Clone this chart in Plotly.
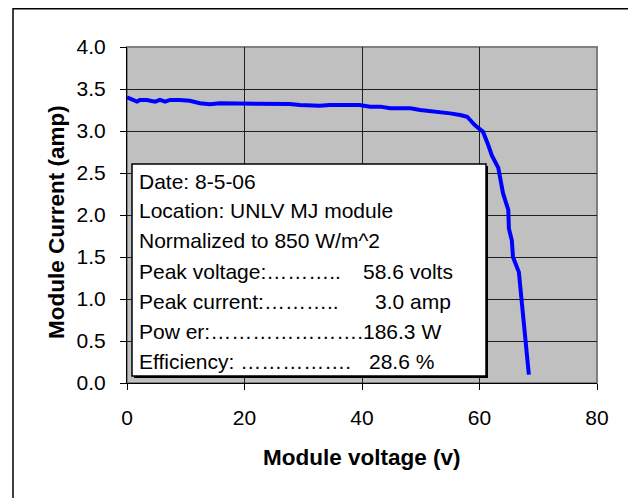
import plotly.graph_objects as go

# I-V curve data
voltage = [0.0, 0.7, 1.7, 2.2, 3.4, 4.8, 5.6, 6.5, 7.3, 9.0, 10.7, 12.4, 14.1, 15.8,
           17.5, 19.2, 20.9, 22.6, 24.3, 26.0, 27.7, 29.4, 31.1, 32.8, 34.5, 36.2,
           37.9, 39.6, 41.4, 43.1, 44.8, 46.5, 48.2, 49.9, 51.6, 53.3, 55.0, 56.7,
           57.9, 59.2, 60.6, 61.5, 62.1, 63.2, 63.5, 64.0, 64.9, 65.0, 65.5, 65.7,
           66.7, 68.4]
current = [3.40, 3.38, 3.35, 3.37, 3.37, 3.35, 3.37, 3.35, 3.37, 3.37, 3.36, 3.33,
           3.32, 3.33, 3.33, 3.32, 3.33, 3.32, 3.32, 3.33, 3.32, 3.31, 3.30, 3.30,
           3.31, 3.31, 3.30, 3.31, 3.29, 3.29, 3.27, 3.27, 3.27, 3.25, 3.24, 3.23,
           3.21, 3.19, 3.17, 3.07, 2.99, 2.83, 2.71, 2.56, 2.45, 2.26, 2.06, 1.84,
           1.70, 1.50, 1.32, 0.10]

x_ticks = [0, 20, 40, 60, 80]
y_ticks = [0.0, 0.5, 1.0, 1.5, 2.0, 2.5, 3.0, 3.5, 4.0]

info_labels = ["Date: 8-5-06", "Location: UNLV MJ module", "Normalized to 850 W/m^2",
               "Peak voltage:\u2026\u2026\u2026..", "Peak current:\u2026\u2026\u2026..",
               "Pow er:\u2026\u2026\u2026\u2026\u2026\u2026\u2026.",
               "Efficiency: \u2026\u2026\u2026\u2026\u2026."]
info_values = ["", "", "", "58.6 volts", "3.0 amp", "186.3 W", "28.6 %"]

# page body has an 8px margin: figure is shifted, so compensate
OFF = 8
W, H = 636 - OFF, 498 - OFF
REF_L, REF_T, PW, PH = 127, 47, 470, 336
L, T = REF_L - OFF, REF_T - OFF
R, B = W - L - PW, H - T - PH
FONT = "Liberation Sans, Arial, sans-serif"


def px(xp):
    return (xp - REF_L) / PW


def py(yp):
    return (REF_T + PH - yp) / PH


fig = go.Figure()
fig.add_trace(go.Scatter(x=voltage, y=current, mode="lines",
                         line=dict(color="#0000FF", width=4), showlegend=False))

axis_common = dict(showline=True, linecolor="black", linewidth=1, ticks="outside",
                   ticklen=6, tickcolor="black", showgrid=True, gridcolor="#202020",
                   gridwidth=1, zeroline=False, tickfont=dict(family=FONT, size=21, color="black"))
fig.update_xaxes(range=[0, 80], tickvals=x_ticks, ticktext=[str(v) for v in x_ticks],
                 ticklabelstandoff=10, **axis_common)
fig.update_yaxes(range=[0, 4], tickvals=y_ticks, ticktext=[f"{v:.1f}" for v in y_ticks],
                 ticklabelstandoff=10, **axis_common)

shapes = []
# outer chart frame
shapes.append(dict(type="rect", xref="paper", yref="paper", x0=px(13), x1=px(630),
                   y0=py(520), y1=py(8.8), line=dict(color="black", width=1.5), layer="below"))
# plot area border (gray)
shapes.append(dict(type="rect", xref="paper", yref="paper", x0=0, x1=1, y0=0, y1=1,
                   line=dict(color="#808080", width=2), layer="below"))
# text box shadow and box
shapes.append(dict(type="rect", xref="paper", yref="paper", x0=px(134), x1=px(488),
                   y0=py(378), y1=py(166), fillcolor="black", line=dict(width=0)))
shapes.append(dict(type="rect", xref="paper", yref="paper", x0=px(132), x1=px(486),
                   y0=py(376), y1=py(164), fillcolor="white",
                   line=dict(color="black", width=1.5)))

annotations = []
line_y = [180, 209.5, 239, 270, 300.5, 330, 360]
value_x = [0, 0, 0, 363, 375, 363, 369]
for i, (lab, val) in enumerate(zip(info_labels, info_values)):
    annotations.append(dict(text=lab, xref="paper", yref="paper", x=px(138), y=py(line_y[i] + 1),
                            xanchor="left", yanchor="middle", showarrow=False, borderpad=0,
                            font=dict(family=FONT, size=21, color="black")))
    if val:
        annotations.append(dict(text=val, xref="paper", yref="paper", x=px(value_x[i] - 1),
                                y=py(line_y[i] + 1), xanchor="left", yanchor="middle",
                                showarrow=False, borderpad=0,
                                font=dict(family=FONT, size=21, color="black")))

annotations.append(dict(text="<b>Module voltage (v)</b>", xref="paper", yref="paper",
                        x=px(362), y=py(457), xanchor="center", yanchor="middle",
                        showarrow=False, font=dict(family=FONT, size=22.5, color="black")))
annotations.append(dict(text="<b>Module Current (amp)</b>", xref="paper", yref="paper",
                        x=px(57), y=py(222), xanchor="center", yanchor="middle", textangle=-90,
                        showarrow=False, font=dict(family=FONT, size=22.5, color="black")))

fig.update_layout(width=W, height=H, margin=dict(l=L, r=R, t=T, b=B, pad=0),
                  plot_bgcolor="#C0C0C0", paper_bgcolor="white",
                  shapes=shapes, annotations=annotations, showlegend=False)

fig.write_html("out.html")
